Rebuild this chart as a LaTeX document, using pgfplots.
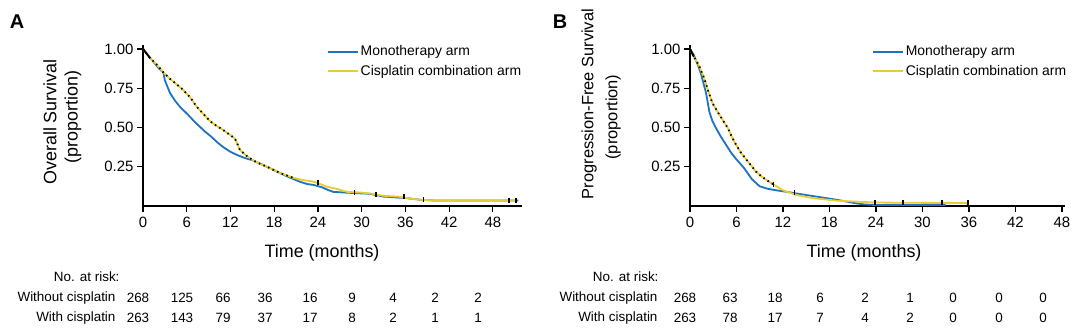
\documentclass[border=0pt]{standalone}
\usepackage{pgfplots}
\usepackage{pgfplotstable}
\pgfplotsset{compat=1.18}
\usepackage{fontspec}
\setmainfont{Liberation Sans}
\definecolor{mono}{RGB}{30,115,190}
\definecolor{cis}{RGB}{232,205,50}
\newcommand{\fs}[1]{\fontsize{#1}{#1}\selectfont}

% Panel A: overall survival
\pgfplotstableread{
x y
0 1.0
0.5 0.97
1.4 0.92
2.2 0.875
2.8 0.85
3.0 0.80
3.7 0.72
4.4 0.67
5.1 0.63
6.2 0.58
7.0 0.54
7.8 0.505
8.6 0.47
9.4 0.44
10.2 0.405
11.0 0.375
12.0 0.345
12.9 0.325
14.0 0.305
15.1 0.29
16.5 0.26
17.9 0.23
19.0 0.205
20.2 0.18
21.5 0.155
22.5 0.14
23.4 0.134
24.5 0.12
25.5 0.10
26.1 0.09
27.9 0.085
30.0 0.08
31.1 0.078
33.0 0.06
36.2 0.05
38.0 0.04
40.0 0.035
45.0 0.035
50.0 0.035
51.5 0.035
}\Amono
\pgfplotstableread{
x y
0 1.0
0.5 0.97
1.0 0.94
1.9 0.90
2.8 0.85
3.7 0.81
4.6 0.775
5.5 0.74
6.5 0.69
7.4 0.63
8.3 0.585
9.2 0.54
10.1 0.51
11.0 0.484
12.0 0.45
12.6 0.43
13.0 0.39
13.3 0.357
14.2 0.32
15.1 0.29
16.0 0.27
17.0 0.25
18.8 0.21
20.6 0.18
22.0 0.165
23.4 0.155
24.3 0.14
25.2 0.123
26.5 0.11
28.0 0.09
30.0 0.085
31.1 0.08
33.0 0.065
35.0 0.06
36.2 0.05
38.0 0.04
40.0 0.035
45.0 0.035
50.0 0.035
51.2 0.035
}\Acis
\pgfplotstableread{
x y
24.0 0.15
29.0 0.086
32.0 0.075
35.8 0.058
38.5 0.04
50.2 0.035
51.2 0.035
}\Amarks

% Panel B: progression-free survival
\pgfplotstableread{
x y
0 1.0
0.5 0.96
1.0 0.90
1.4 0.845
1.8 0.77
2.07 0.72
2.5 0.60
2.9 0.54
3.36 0.495
4.0 0.44
4.65 0.39
5.3 0.34
5.94 0.30
7.0 0.24
8.0 0.17
9.0 0.125
10.0 0.11
11.1 0.10
12.5 0.09
13.7 0.08
15.0 0.07
16.3 0.06
18.9 0.04
20.0 0.03
21.4 0.017
22.5 0.01
24.0 0.006
30.0 0.006
33.0 0.006
}\Bmono
\pgfplotstableread{
x y
0 1.0
0.5 0.95
1.2 0.89
1.85 0.81
2.3 0.74
2.9 0.654
3.8 0.58
4.9 0.495
5.4 0.44
5.94 0.39
6.5 0.345
7.2 0.30
8.5 0.22
9.3 0.185
10.2 0.155
11.0 0.13
12.0 0.10
13.7 0.07
15.9 0.05
18.9 0.034
21.9 0.027
24.0 0.022
30.0 0.02
36.0 0.02
}\Bcis
\pgfplotstableread{
x y
10.8 0.14
13.5 0.085
23.9 0.022
27.5 0.02
32.5 0.02
35.9 0.02
}\Bmarks

\pgfplotsset{
 kmaxis/.style={
  scale only axis, anchor=origin,
  xmin=0, ymin=0, ymax=1.025,
  height=161bp,
  axis x line*=bottom, axis y line*=left,
  axis line style={line width=1.6bp, -},
  xtick={0,6,...,48}, ytick={0.25,0.5,0.75,1},
  yticklabels={0.25,0.50,0.75,1.00},
  tick align=outside, major tick length=6bp,
  tick style={line width=1.2bp, black},
  ticklabel style={font=\fs{15}},
  xticklabel style={yshift=-2bp},
  /pgf/number format/assume math mode=true,
  clip=false,
  legend style={draw=none, fill=none, font=\fs{14}, anchor=north west,
    inner sep=0pt, row sep=4.5bp, nodes={inner sep=1.5bp}},
  legend cell align=left,
  legend image code/.code={\draw[##1, line width=2.2bp] (0bp,0bp) -- (30bp,0bp);},
 },
 monoline/.style={mono, line width=1.8bp},
 cisline/.style={cis, line width=1.8bp},
 cens/.style={black, line width=1.8bp, dash pattern=on 1.5bp off 3.5bp, forget plot},
 censmark/.style={black, only marks, mark=|, mark size=2.5bp, mark options={line width=1.5bp}, forget plot},
}

\begin{document}
\begin{tikzpicture}
\useasboundingbox (0bp,0bp) rectangle (1080bp,333bp);

% Panel A
\begin{axis}[kmaxis, at={(143bp,127bp)}, width=379bp, xmax=52,
  legend style={at={(0.485,1.005)}}]
\addplot[monoline] table {\Amono};
\addlegendentry{Monotherapy arm}
\addplot[cisline] table {\Acis};
\addlegendentry{Cisplatin combination arm}
\addplot[cens, restrict x to domain=0:21] table {\Acis};
\addplot[black, line width=1.8bp, restrict x to domain=0:1.6, forget plot] table {\Acis};
\addplot[censmark] table {\Amarks};
\end{axis}

% Panel B
\begin{axis}[kmaxis, at={(690bp,127bp)}, width=375bp, xmax=48.4,
  legend style={at={(0.485,1.005)}}]
\addplot[monoline] table {\Bmono};
\addlegendentry{Monotherapy arm}
\addplot[cisline] table {\Bcis};
\addlegendentry{Cisplatin combination arm}
\addplot[cens, restrict x to domain=0:11] table {\Bcis};
\addplot[black, line width=1.8bp, restrict x to domain=0:0.6, forget plot] table {\Bcis};
\addplot[censmark] table {\Bmarks};
\end{axis}

% panel letters
\node[font=\fs{20}\bfseries] at (17bp,311bp) {A};
\node[font=\fs{20}\bfseries] at (560bp,311bp) {B};

% y labels
\node[rotate=90, font=\fs{18}] at (50bp,211bp) {Overall Survival};
\node[rotate=90, font=\fs{18}] at (73bp,216bp) {(proportion)};
\node[rotate=90, font=\fs{16.5}] at (589bp,229bp) {Progression-Free Survival};
\node[rotate=90, font=\fs{16.5}] at (613bp,216bp) {(proportion)};

% x labels
\node[font=\fs{18}] at (322bp,80bp) {Time (months)};
\node[font=\fs{18}] at (864bp,80bp) {Time (months)};

% number at risk, panel A
\begin{scope}[font=\fs{13.5}]
\node[anchor=east] at (123bp,56bp) {No. at risk:};
\node[anchor=east] at (119bp,35bp) {Without cisplatin};
\node[anchor=east] at (119bp,15bp) {With cisplatin};
\foreach \xx/\n in {138/268,182/125,223/66,265/36,310/16,352/9,393/4,435/2,478/2}
  \node at (\xx bp,35bp) {\n};
\foreach \xx/\n in {138/263,182/143,223/79,265/37,310/17,352/8,393/2,435/1,478/1}
  \node at (\xx bp,15bp) {\n};
% panel B
\node[anchor=east] at (662bp,56bp) {No. at risk:};
\node[anchor=east] at (661bp,35bp) {Without cisplatin};
\node[anchor=east] at (661bp,15bp) {With cisplatin};
\foreach \xx/\n in {685/268,730/63,775/18,820/6,865/2,910/1,953/0,999/0,1043/0}
  \node at (\xx bp,35bp) {\n};
\foreach \xx/\n in {685/263,730/78,775/17,820/7,865/4,910/2,953/0,999/0,1043/0}
  \node at (\xx bp,15bp) {\n};
\end{scope}
\end{tikzpicture}
\end{document}
